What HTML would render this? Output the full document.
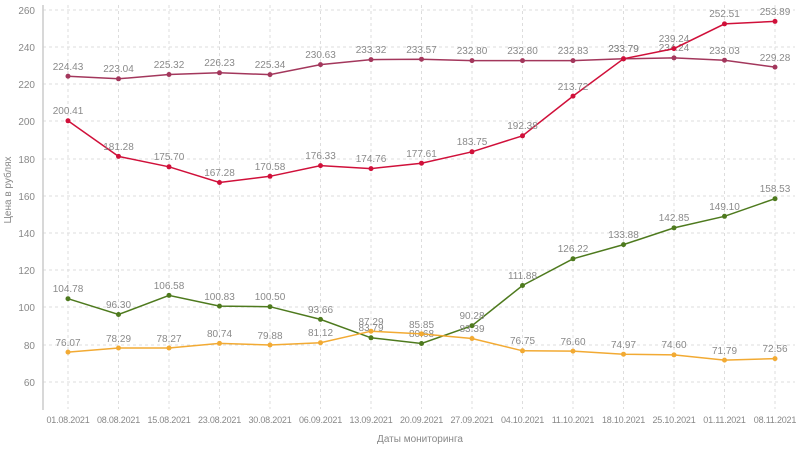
<!DOCTYPE html>
<html><head><meta charset="utf-8"><style>
body{margin:0;background:#fff;width:800px;height:450px;overflow:hidden}
text{font-family:"Liberation Sans",sans-serif}
.l{font-size:10px;fill:#8a8a8a;text-anchor:middle}
.t{font-size:10px;fill:#888}
.x{font-size:9px;fill:#888;letter-spacing:-0.2px}
.g{stroke:#ddd;stroke-dasharray:3,3;stroke-width:1}
</style></head><body>
<svg width="800" height="450" xmlns="http://www.w3.org/2000/svg">
<g class="g">
<line x1="43" x2="795" y1="10" y2="10"/><line x1="43" x2="795" y1="47" y2="47"/><line x1="43" x2="795" y1="84" y2="84"/><line x1="43" x2="795" y1="121" y2="121"/><line x1="43" x2="795" y1="159" y2="159"/><line x1="43" x2="795" y1="196" y2="196"/><line x1="43" x2="795" y1="233" y2="233"/><line x1="43" x2="795" y1="270" y2="270"/><line x1="43" x2="795" y1="307" y2="307"/><line x1="43" x2="795" y1="345" y2="345"/><line x1="43" x2="795" y1="382" y2="382"/>
<line y1="5" y2="409" x1="68" x2="68"/><line y1="5" y2="409" x1="118.5" x2="118.5"/><line y1="5" y2="409" x1="169" x2="169"/><line y1="5" y2="409" x1="219.5" x2="219.5"/><line y1="5" y2="409" x1="270" x2="270"/><line y1="5" y2="409" x1="320.5" x2="320.5"/><line y1="5" y2="409" x1="371" x2="371"/><line y1="5" y2="409" x1="421.5" x2="421.5"/><line y1="5" y2="409" x1="472" x2="472"/><line y1="5" y2="409" x1="522.5" x2="522.5"/><line y1="5" y2="409" x1="573" x2="573"/><line y1="5" y2="409" x1="623.5" x2="623.5"/><line y1="5" y2="409" x1="674" x2="674"/><line y1="5" y2="409" x1="724.5" x2="724.5"/><line y1="5" y2="409" x1="775" x2="775"/>
</g>
<line x1="43" x2="43" y1="5" y2="410" stroke="#ccc" stroke-width="1.5"/>
<g class="t" text-anchor="end">
<text x="35" y="14">260</text><text x="35" y="51">240</text><text x="35" y="88">220</text><text x="35" y="125">200</text><text x="35" y="163">180</text><text x="35" y="200">160</text><text x="35" y="237">140</text><text x="35" y="274">120</text><text x="35" y="311">100</text><text x="35" y="349">80</text><text x="35" y="386">60</text>
</g>
<g class="x" text-anchor="middle">
<text x="68" y="423">01.08.2021</text><text x="118.5" y="423">08.08.2021</text><text x="169" y="423">15.08.2021</text><text x="219.5" y="423">23.08.2021</text><text x="270" y="423">30.08.2021</text><text x="320.5" y="423">06.09.2021</text><text x="371" y="423">13.09.2021</text><text x="421.5" y="423">20.09.2021</text><text x="472" y="423">27.09.2021</text><text x="522.5" y="423">04.10.2021</text><text x="573" y="423">11.10.2021</text><text x="623.5" y="423">18.10.2021</text><text x="674" y="423">25.10.2021</text><text x="724.5" y="423">01.11.2021</text><text x="775" y="423">08.11.2021</text>
</g>
<g class="t" text-anchor="middle">
<text x="420" y="442">Даты мониторинга</text>
<text transform="translate(11,190) rotate(-90)">Цена в рублях</text>
</g>
<polyline fill="none" stroke="#a3375c" stroke-width="1.5" points="68,76.2 118.5,78.8 169,74.5 219.5,72.8 270,74.6 320.5,64.6 371,59.6 421.5,59.2 472,60.6 522.5,60.6 573,60.6 623.5,58.8 674,57.9 724.5,60.2 775,67.1"/>
<g fill="#a3375c"><circle cx="68" cy="76.2" r="2.5"/><circle cx="118.5" cy="78.8" r="2.5"/><circle cx="169" cy="74.5" r="2.5"/><circle cx="219.5" cy="72.8" r="2.5"/><circle cx="270" cy="74.6" r="2.5"/><circle cx="320.5" cy="64.6" r="2.5"/><circle cx="371" cy="59.6" r="2.5"/><circle cx="421.5" cy="59.2" r="2.5"/><circle cx="472" cy="60.6" r="2.5"/><circle cx="522.5" cy="60.6" r="2.5"/><circle cx="573" cy="60.6" r="2.5"/><circle cx="623.5" cy="58.8" r="2.5"/><circle cx="674" cy="57.9" r="2.5"/><circle cx="724.5" cy="60.2" r="2.5"/><circle cx="775" cy="67.1" r="2.5"/></g>
<g class="l"><text x="68" y="70">224.43</text><text x="118.5" y="72">223.04</text><text x="169" y="68">225.32</text><text x="219.5" y="66">226.23</text><text x="270" y="68">225.34</text><text x="320.5" y="58">230.63</text><text x="371" y="53">233.32</text><text x="421.5" y="53">233.57</text><text x="472" y="54">232.80</text><text x="522.5" y="54">232.80</text><text x="573" y="54">232.83</text><text x="623.5" y="52">233.79</text><text x="674" y="51">234.24</text><text x="724.5" y="54">233.03</text><text x="775" y="61">229.28</text></g>
<polyline fill="none" stroke="#d0103a" stroke-width="1.5" points="68,120.8 118.5,156.4 169,166.8 219.5,182.5 270,176.3 320.5,165.6 371,168.6 421.5,163.2 472,151.8 522.5,135.8 573,96.1 623.5,58.8 674,48.6 724.5,23.9 775,21.4"/>
<g fill="#d0103a"><circle cx="68" cy="120.8" r="2.5"/><circle cx="118.5" cy="156.4" r="2.5"/><circle cx="169" cy="166.8" r="2.5"/><circle cx="219.5" cy="182.5" r="2.5"/><circle cx="270" cy="176.3" r="2.5"/><circle cx="320.5" cy="165.6" r="2.5"/><circle cx="371" cy="168.6" r="2.5"/><circle cx="421.5" cy="163.2" r="2.5"/><circle cx="472" cy="151.8" r="2.5"/><circle cx="522.5" cy="135.8" r="2.5"/><circle cx="573" cy="96.1" r="2.5"/><circle cx="623.5" cy="58.8" r="2.5"/><circle cx="674" cy="48.6" r="2.5"/><circle cx="724.5" cy="23.9" r="2.5"/><circle cx="775" cy="21.4" r="2.5"/></g>
<g class="l"><text x="68" y="114">200.41</text><text x="118.5" y="150">181.28</text><text x="169" y="160">175.70</text><text x="219.5" y="176">167.28</text><text x="270" y="170">170.58</text><text x="320.5" y="159">176.33</text><text x="371" y="162">174.76</text><text x="421.5" y="157">177.61</text><text x="472" y="145">183.75</text><text x="522.5" y="129">192.38</text><text x="573" y="90">213.72</text><text x="623.5" y="52">233.79</text><text x="674" y="42">239.24</text><text x="724.5" y="17">252.51</text><text x="775" y="15">253.89</text></g>
<polyline fill="none" stroke="#4e7a1e" stroke-width="1.5" points="68,298.7 118.5,314.5 169,295.4 219.5,306.1 270,306.7 320.5,319.4 371,337.8 421.5,343.5 472,325.7 522.5,285.5 573,258.8 623.5,244.6 674,227.9 724.5,216.3 775,198.7"/>
<g fill="#4e7a1e"><circle cx="68" cy="298.7" r="2.5"/><circle cx="118.5" cy="314.5" r="2.5"/><circle cx="169" cy="295.4" r="2.5"/><circle cx="219.5" cy="306.1" r="2.5"/><circle cx="270" cy="306.7" r="2.5"/><circle cx="320.5" cy="319.4" r="2.5"/><circle cx="371" cy="337.8" r="2.5"/><circle cx="421.5" cy="343.5" r="2.5"/><circle cx="472" cy="325.7" r="2.5"/><circle cx="522.5" cy="285.5" r="2.5"/><circle cx="573" cy="258.8" r="2.5"/><circle cx="623.5" cy="244.6" r="2.5"/><circle cx="674" cy="227.9" r="2.5"/><circle cx="724.5" cy="216.3" r="2.5"/><circle cx="775" cy="198.7" r="2.5"/></g>
<g class="l"><text x="68" y="292">104.78</text><text x="118.5" y="308">96.30</text><text x="169" y="289">106.58</text><text x="219.5" y="300">100.83</text><text x="270" y="300">100.50</text><text x="320.5" y="313">93.66</text><text x="371" y="331">83.79</text><text x="421.5" y="337">80.68</text><text x="472" y="319">90.28</text><text x="522.5" y="279">111.88</text><text x="573" y="252">126.22</text><text x="623.5" y="238">133.88</text><text x="674" y="221">142.85</text><text x="724.5" y="210">149.10</text><text x="775" y="192">158.53</text></g>
<polyline fill="none" stroke="#f2aa33" stroke-width="1.5" points="68,352.1 118.5,348 169,348 219.5,343.4 270,345 320.5,342.7 371,331.2 421.5,333.9 472,338.5 522.5,350.8 573,351.1 623.5,354.2 674,354.9 724.5,360.1 775,358.6"/>
<g fill="#f2aa33"><circle cx="68" cy="352.1" r="2.5"/><circle cx="118.5" cy="348" r="2.5"/><circle cx="169" cy="348" r="2.5"/><circle cx="219.5" cy="343.4" r="2.5"/><circle cx="270" cy="345" r="2.5"/><circle cx="320.5" cy="342.7" r="2.5"/><circle cx="371" cy="331.2" r="2.5"/><circle cx="421.5" cy="333.9" r="2.5"/><circle cx="472" cy="338.5" r="2.5"/><circle cx="522.5" cy="350.8" r="2.5"/><circle cx="573" cy="351.1" r="2.5"/><circle cx="623.5" cy="354.2" r="2.5"/><circle cx="674" cy="354.9" r="2.5"/><circle cx="724.5" cy="360.1" r="2.5"/><circle cx="775" cy="358.6" r="2.5"/></g>
<g class="l"><text x="68" y="346">76.07</text><text x="118.5" y="342">78.29</text><text x="169" y="342">78.27</text><text x="219.5" y="337">80.74</text><text x="270" y="339">79.88</text><text x="320.5" y="336">81.12</text><text x="371" y="325">87.29</text><text x="421.5" y="328">85.85</text><text x="472" y="332">83.39</text><text x="522.5" y="344">76.75</text><text x="573" y="345">76.60</text><text x="623.5" y="348">74.97</text><text x="674" y="348">74.60</text><text x="724.5" y="354">71.79</text><text x="775" y="352">72.56</text></g>
</svg>
</body></html>
